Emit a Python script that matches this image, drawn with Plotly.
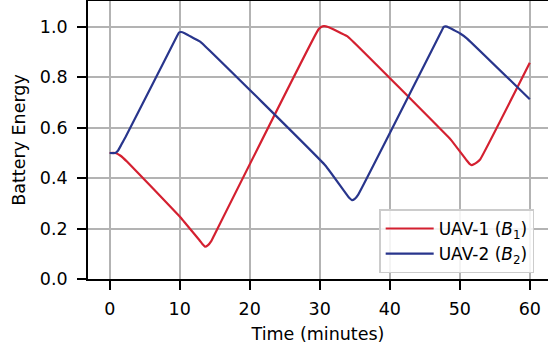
import plotly.graph_objects as go

# UAV-1 (B1) battery energy over time (minutes)
t_uav1 = [0, 0.8, 1.5, 2.5, 10.0, 10.6, 12.8, 13.3, 13.6, 14.0, 14.5, 15.0,
          29.8, 30.2, 30.6, 31.2, 32.0, 33.0, 34.0, 48.3, 48.8, 51.0, 51.4,
          51.7, 52.0, 52.4, 52.9, 60.0]
e_uav1 = [0.5, 0.5, 0.49, 0.465, 0.248, 0.228, 0.155, 0.137, 0.128, 0.133, 0.150, 0.178,
          0.99, 1.0, 1.003, 1.0, 0.99, 0.976, 0.962, 0.565, 0.55, 0.47, 0.457,
          0.452, 0.455, 0.462, 0.474, 0.858]

# UAV-2 (B2) battery energy over time (minutes)
t_uav2 = [0, 0.8, 1.2, 1.7, 2.3, 9.6, 9.9, 10.2, 10.7, 11.5, 12.5, 13.0,
          30.8, 34.2, 34.6, 35.0, 35.5, 47.4, 47.7, 48.0, 48.5, 49.2, 50.0, 51.0, 60.0]
e_uav2 = [0.5, 0.5, 0.51, 0.535, 0.565, 0.963, 0.978, 0.98, 0.975, 0.963, 0.948, 0.94,
          0.4505, 0.322, 0.313, 0.318, 0.335, 0.984, 1.0, 1.002, 0.997, 0.987, 0.975, 0.955, 0.713]

x_ticks = [0, 10, 20, 30, 40, 50, 60]
y_ticks = [0.0, 0.2, 0.4, 0.6, 0.8, 1.0]
y_tick_labels = ["0.0", "0.2", "0.4", "0.6", "0.8", "1.0"]

RED = "#d42030"
BLUE = "#28358c"
FONT = "DejaVu Sans"
FS = 17.5

fig = go.Figure()
fig.add_trace(go.Scatter(x=t_uav1, y=e_uav1, mode="lines",
                         name="UAV-1 (<i>B</i><sub>1</sub>)",
                         line=dict(color=RED, width=2.2, shape="spline", smoothing=0.3)))
fig.add_trace(go.Scatter(x=t_uav2, y=e_uav2, mode="lines",
                         name="UAV-2 (<i>B</i><sub>2</sub>)",
                         line=dict(color=BLUE, width=2.2, shape="spline", smoothing=0.3)))

axis_common = dict(
    automargin=True,
    showgrid=True, gridcolor="#b3b3b3", gridwidth=1.5,
    zeroline=False, showline=True, linecolor="black", linewidth=1.8,
    ticks="outside", ticklen=9, tickwidth=1.5, tickcolor="black",
    tickfont=dict(family=FONT, size=FS, color="black"),
)

fig.update_layout(
    width=548, height=350,
    margin=dict(l=88, r=0, t=1, b=71, autoexpand=False),
    plot_bgcolor="white", paper_bgcolor="white",
    font=dict(family=FONT, size=FS, color="black"),
    xaxis=dict(range=[-3.1, 62.6], tickvals=x_ticks, mirror=True, ticklabelstandoff=4,
               title=dict(text="Time (minutes)", font=dict(family=FONT, size=FS), standoff=10),
               **axis_common),
    yaxis=dict(range=[0, 1.103], tickvals=y_ticks, ticktext=y_tick_labels, ticklabelstandoff=6,
               title=dict(text="Battery Energy", font=dict(family=FONT, size=FS), standoff=10),
               **axis_common),
    legend=dict(x=0.633, y=0.02, xanchor="left", yanchor="bottom", itemwidth=48,
                bgcolor="rgba(255,255,255,0.85)", bordercolor="#cccccc", borderwidth=1.5,
                font=dict(family=FONT, size=17), tracegroupgap=0),
    showlegend=True,
)

fig.write_html("out.html", config={"displayModeBar": False},
               post_script="document.body.style.margin='0px';document.body.style.overflow='hidden';")
